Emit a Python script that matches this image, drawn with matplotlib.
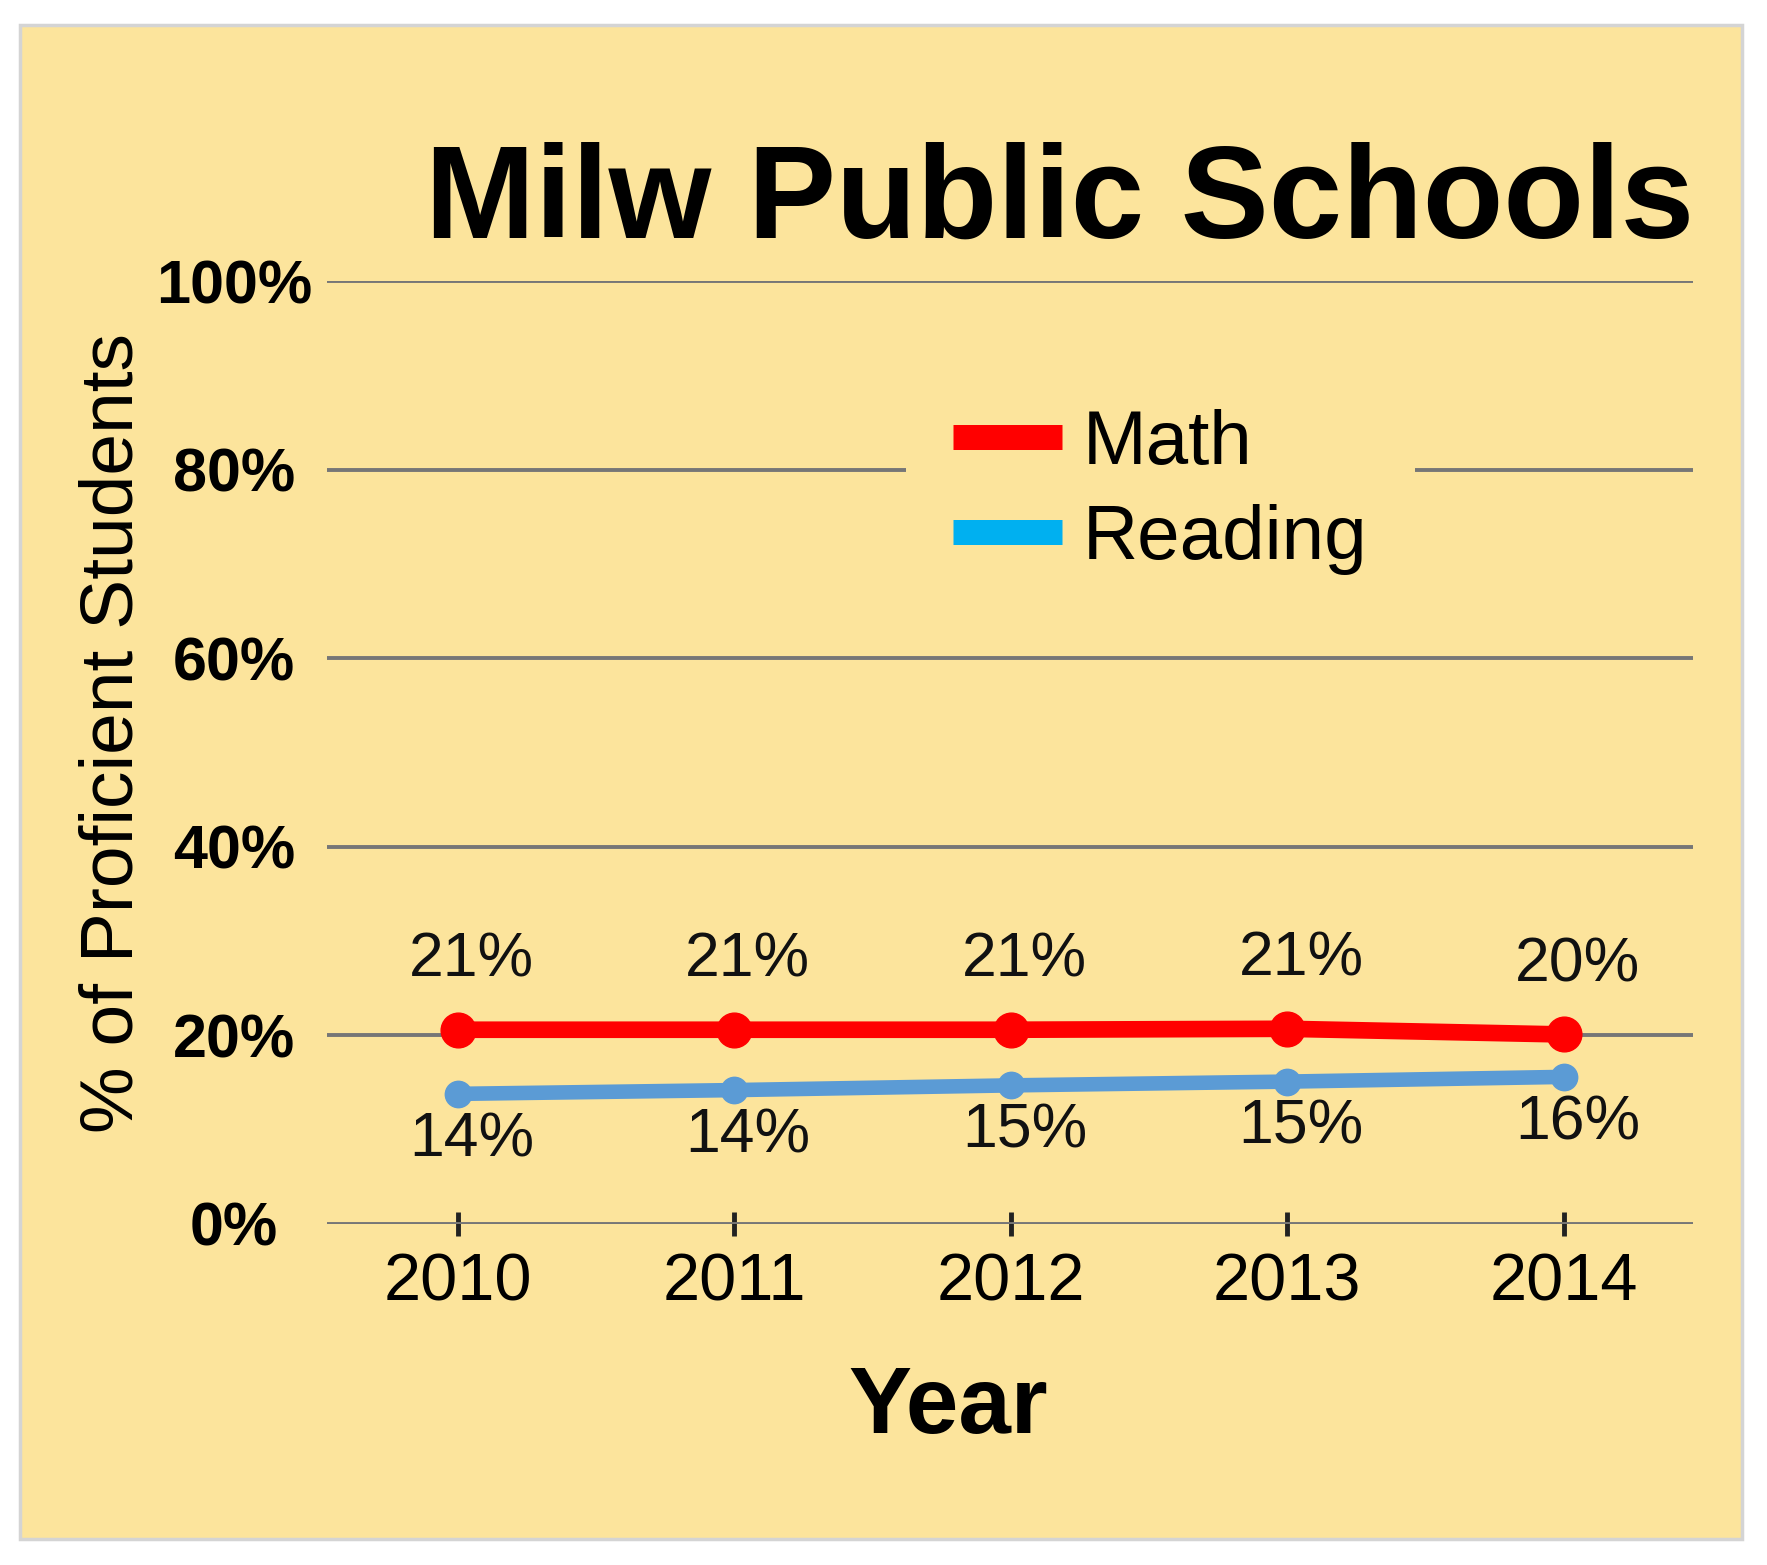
import matplotlib
matplotlib.use("Agg")
import matplotlib.pyplot as plt
from matplotlib.lines import Line2D
from matplotlib.patches import Rectangle

years = ["2010", "2011", "2012", "2013", "2014"]
math_vals = [20.6, 20.6, 20.6, 20.7, 20.1]
reading_vals = [13.8, 14.2, 14.7, 15.1, 15.6]
series_names = ["Math", "Reading"]
yticks = [0, 20, 40, 60, 80, 100]
ytick_labels = ["0%", "20%", "40%", "60%", "80%", "100%"]

PANEL = "#FCE49C"
MATH_C = "#FF0000"
READ_C = "#5B9BD5"
READ_LEG = "#00B0F0"
GRID = "#767676"
REG = "Liberation Sans"

fig = plt.figure(figsize=(17.67, 15.65), dpi=100, facecolor="white")
fig.patches.append(Rectangle((20 / 1767, 1 - 1539 / 1565), (1742 - 20) / 1767, (1539 - 25) / 1565,
                             transform=fig.transFigure, facecolor=PANEL, edgecolor="#d4d4d4",
                             linewidth=2.5, zorder=-10))

ax = fig.add_axes([327 / 1767, 1 - 1224 / 1565, (1693 - 327) / 1767, (1224 - 281) / 1565])
ax.set_zorder(2)
ax.set_facecolor("none")
x = list(range(len(years)))
ax.set_xlim(-0.472, 4.468)
ax.set_ylim(0, 100)

for s in ax.spines.values():
    s.set_visible(False)
ax.set_yticks(yticks)
ax.set_yticklabels(ytick_labels, fontfamily=REG, fontweight="bold", fontsize=44)
ax.tick_params(axis="y", length=0, pad=67)
for lab in ax.get_yticklabels():
    lab.set_horizontalalignment("center")
ax.yaxis.grid(True, color=GRID, linewidth=2.8)
ax.set_axisbelow(True)

ax.set_xticks(x)
ax.set_xticklabels(years, fontfamily=REG, fontsize=48)
ax.tick_params(axis="x", direction="inout", length=17, width=3.5, color="#222222", pad=12)

ax.plot(x, math_vals, color=MATH_C, linewidth=12, marker="o", markersize=25, zorder=4, clip_on=False)
ax.plot(x, reading_vals, color=READ_C, linewidth=10.5, marker="o", markersize=19, zorder=3, clip_on=False)

for xi, v in zip(x, math_vals):
    ax.annotate(f"{v:.0f}%", (xi, v), xytext=(10, 50), textcoords="offset points",
                ha="center", va="center", fontsize=45, fontfamily=REG, color="#111111")
for xi, v in zip(x, reading_vals):
    ax.annotate(f"{v:.0f}%", (xi, v), xytext=(10, -33), textcoords="offset points",
                ha="center", va="center", fontsize=45, fontfamily=REG, color="#111111")

handles = [Line2D([0], [0], color=MATH_C, linewidth=18, solid_capstyle="butt"),
           Line2D([0], [0], color=READ_LEG, linewidth=18, solid_capstyle="butt")]
leg = fig.legend(handles, series_names, loc="center left", bbox_to_anchor=(906 / 1767, 1 - 492 / 1565),
                 frameon=True, facecolor=PANEL, edgecolor="none", framealpha=1,
                 prop={"family": REG, "size": 55}, handlelength=1.42, handletextpad=0.28,
                 labelspacing=0.32, borderpad=0.62, borderaxespad=0)
leg.set_zorder(5)

fig.text(1060 / 1767, 1 - 238 / 1565, "Milw Public Schools", ha="center", va="baseline",
         fontsize=95, fontweight="bold", fontfamily=REG, color="black")
fig.text(113 / 1767, 1 - 733 / 1565, "% of Proficient Students", rotation=90, ha="center", va="center",
         fontsize=54, fontfamily=REG, color="black")
fig.text(948 / 1767, 1 - 1409 / 1565, "Year", ha="center", va="center",
         fontsize=68, fontweight="bold", fontfamily=REG, color="black")

fig.savefig("out.png", dpi=100, facecolor="white")
